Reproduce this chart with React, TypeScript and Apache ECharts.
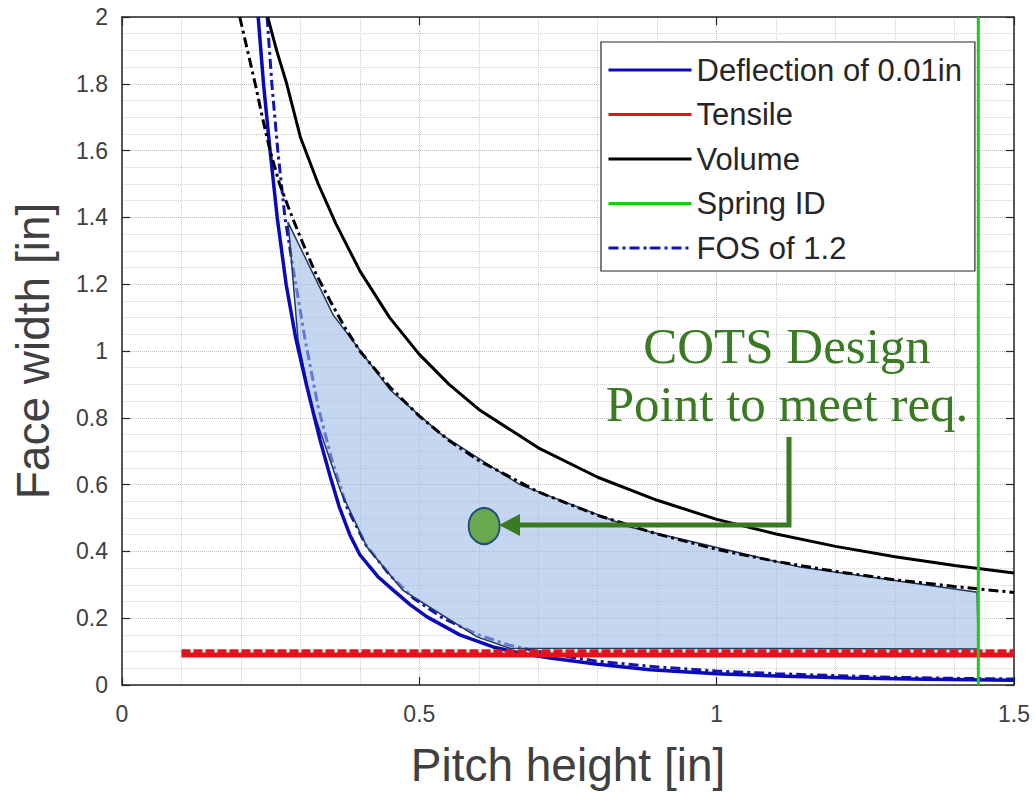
import React, { useEffect, useRef } from "react";
import * as echarts from "echarts";

// ---- data ----
const deflectionPitch = [0.229, 0.238, 0.249, 0.261, 0.276, 0.292, 0.31, 0.333, 0.35, 0.365, 0.383, 0.4, 0.43, 0.456, 0.485, 0.513, 0.568, 0.624, 0.67, 0.72, 0.8, 0.888, 1.0, 1.1, 1.224, 1.35, 1.5];
const deflectionFace = [2.0, 1.8, 1.6, 1.4, 1.2, 1.04, 0.9, 0.734, 0.625, 0.535, 0.45, 0.39, 0.325, 0.284, 0.24, 0.204, 0.15, 0.114, 0.095, 0.081, 0.062, 0.046, 0.034, 0.027, 0.021, 0.017, 0.014];

const fosPitch = [0.244, 0.252, 0.262, 0.274, 0.289, 0.308, 0.33, 0.352, 0.378, 0.41, 0.45, 0.49, 0.54, 0.6, 0.65, 0.72, 0.8, 0.9, 1.0, 1.1, 1.2, 1.3, 1.4, 1.5];
const fosFace = [2.0, 1.8, 1.6, 1.4, 1.234, 1.033, 0.832, 0.68, 0.533, 0.42, 0.33, 0.26, 0.2, 0.15, 0.12, 0.093, 0.071, 0.054, 0.042, 0.034, 0.028, 0.023, 0.02, 0.018];

const volumePitch = [0.245, 0.26, 0.277, 0.3, 0.33, 0.36, 0.4, 0.45, 0.5, 0.55, 0.6, 0.7, 0.8, 0.9, 1.0, 1.1, 1.2, 1.3, 1.4, 1.5];
const volumeFace = [2.0, 1.9, 1.8, 1.64, 1.5, 1.38, 1.24, 1.1, 0.99, 0.9, 0.825, 0.71, 0.622, 0.553, 0.496, 0.452, 0.415, 0.384, 0.358, 0.335];

const volumeFosPitch = [0.198, 0.211, 0.224, 0.236, 0.249, 0.265, 0.282, 0.3, 0.325, 0.35, 0.375, 0.4, 0.45, 0.5, 0.55, 0.6, 0.7, 0.8, 0.9, 1.0, 1.1, 1.2, 1.3, 1.4, 1.5];
const volumeFosFace = [2.0, 1.9, 1.8, 1.7, 1.6, 1.5, 1.42, 1.34, 1.235, 1.15, 1.07, 1.0, 0.893, 0.805, 0.732, 0.672, 0.578, 0.508, 0.452, 0.406, 0.37, 0.34, 0.315, 0.295, 0.277];

const tensilePitch = [0.1, 1.5];
const tensileFace = [0.09, 0.09];
const tensileFosFace = [0.101, 0.101];

const springIdPitch = [1.44, 1.44];
const springIdFace = [0, 2];

const regionPitch = [0.279, 0.355, 0.451, 0.538, 0.669, 0.854, 1.14, 1.438, 1.44, 0.652, 0.597, 0.472, 0.412, 0.367, 0.344, 0.319, 0.296, 0.282];
const regionFace = [1.386, 1.108, 0.883, 0.749, 0.6, 0.473, 0.353, 0.278, 0.108, 0.11, 0.144, 0.284, 0.413, 0.583, 0.704, 0.832, 1.033, 1.332];

const designPoint = [0.609, 0.476];

const xTicks = { min: 0, max: 1.5, interval: 0.5 };
const yTicks = { min: 0, max: 2, interval: 0.2 };

const zip = (xs: number[], ys: number[]) => xs.map((x, i) => [x, ys[i]]);

const AXIS_COLOR = "#262626";
const LABEL_COLOR = "#404040";
const SANS = "'Liberation Sans', Arial, sans-serif";
const SERIF = "'Liberation Serif', 'DejaVu Serif', serif";
const GREEN = "#3a7a22";

export default function App() {
  const ref = useRef<HTMLDivElement>(null);

  useEffect(() => {
    if (!ref.current) return;
    const chart = echarts.init(ref.current, undefined, { renderer: "svg" });

    const gridLine = { show: true, lineStyle: { type: "dotted", color: "#bdbdbd", width: 1 } };
    const minorLine = { show: true, lineStyle: { type: "dotted", color: "#d0d0d0", width: 1 } };
    const boxLine = { show: true, onZero: false, lineStyle: { color: AXIS_COLOR, width: 1.5 } };
    const boxTick = { show: true, inside: true, length: 8, lineStyle: { color: AXIS_COLOR, width: 1.2 } };

    const option: any = {
      animation: false,
      backgroundColor: "#ffffff",
      grid: { left: 122, top: 17, width: 892, height: 668, containLabel: false },
      xAxis: [
        {
          type: "value",
          position: "bottom",
          min: xTicks.min,
          max: xTicks.max,
          interval: xTicks.interval,
          name: "Pitch height [in]",
          nameLocation: "middle",
          nameGap: 57,
          nameTextStyle: { fontSize: 46, color: LABEL_COLOR, fontFamily: SANS },
          axisLine: boxLine,
          axisTick: boxTick,
          axisLabel: { fontSize: 23, color: LABEL_COLOR, fontFamily: SANS, margin: 17 },
          splitLine: gridLine,
          minorTick: { show: false, splitNumber: 5 },
          minorSplitLine: minorLine,
        },
        {
          type: "value",
          position: "top",
          min: xTicks.min,
          max: xTicks.max,
          interval: xTicks.interval,
          axisLine: boxLine,
          axisTick: boxTick,
          axisLabel: { show: false },
          splitLine: { show: false },
        },
      ],
      yAxis: [
        {
          type: "value",
          position: "left",
          min: yTicks.min,
          max: yTicks.max,
          interval: yTicks.interval,
          name: "Face width [in]",
          nameLocation: "middle",
          nameGap: 66,
          nameTextStyle: { fontSize: 46, color: LABEL_COLOR, fontFamily: SANS },
          axisLine: boxLine,
          axisTick: boxTick,
          axisLabel: { fontSize: 23, color: LABEL_COLOR, fontFamily: SANS, margin: 14 },
          splitLine: gridLine,
          minorTick: { show: false, splitNumber: 4 },
          minorSplitLine: minorLine,
        },
        {
          type: "value",
          position: "right",
          min: yTicks.min,
          max: yTicks.max,
          interval: yTicks.interval,
          axisLine: boxLine,
          axisTick: boxTick,
          axisLabel: { show: false },
          splitLine: { show: false },
        },
      ],
      legend: {
        data: ["Deflection of 0.01in", "Tensile", "Volume", "Spring ID", "FOS of 1.2"],
        orient: "vertical",
        left: 601,
        top: 42,
        selectedMode: false,
        backgroundColor: "#ffffff",
        borderColor: AXIS_COLOR,
        borderWidth: 1.2,
        borderRadius: 0,
        padding: [11, 13, 6, 6],
        itemWidth: 83,
        itemHeight: 2,
        itemGap: 10.5,
        lineStyle: { width: 3 },
        textStyle: { fontSize: 31, color: AXIS_COLOR, fontFamily: SANS, lineHeight: 34 },
      },
      series: [
        {
          name: "FOS of 1.2",
          type: "line",
          z: 1,
          data: zip(fosPitch, fosFace),
          symbol: "none",
          lineStyle: { color: "#1414b4", width: 3, type: [10, 4, 3, 4] },
          itemStyle: { color: "#1414b4" },
        },
        {
          name: "Feasible region",
          type: "custom",
          z: 2,
          silent: true,
          data: [designPoint],
          renderItem: (_params: any, api: any) => {
            const pts = regionPitch.map((x, i) => api.coord([x, regionFace[i]]));
            return {
              type: "polygon",
              shape: { points: pts },
              style: { fill: "rgba(158,187,230,0.6)", stroke: "#1f3864", lineWidth: 1.5 },
            };
          },
        },
        {
          name: "Deflection of 0.01in",
          type: "line",
          z: 3,
          data: zip(deflectionPitch, deflectionFace),
          symbol: "none",
          lineStyle: { color: "#0a0ab8", width: 3.5 },
          itemStyle: { color: "#0a0ab8" },
        },
        {
          name: "Volume",
          type: "line",
          z: 3,
          data: zip(volumePitch, volumeFace),
          symbol: "none",
          lineStyle: { color: "#000000", width: 3 },
          itemStyle: { color: "#000000" },
        },
        {
          name: "Volume FOS",
          type: "line",
          z: 3,
          data: zip(volumeFosPitch, volumeFosFace),
          symbol: "none",
          lineStyle: { color: "#000000", width: 3, type: [10, 4, 3, 4] },
          itemStyle: { color: "#000000" },
        },
        {
          name: "Tensile",
          type: "line",
          z: 3,
          data: zip(tensilePitch, tensileFace),
          symbol: "none",
          lineStyle: { color: "#e0141c", width: 5 },
          itemStyle: { color: "#e0141c" },
        },
        {
          name: "Tensile FOS",
          type: "line",
          z: 3,
          data: zip(tensilePitch, tensileFosFace),
          symbol: "none",
          lineStyle: { color: "#e0141c", width: 4, type: [9, 3] },
        },
        {
          name: "Spring ID",
          type: "line",
          z: 3,
          data: zip(springIdPitch, springIdFace),
          symbol: "none",
          lineStyle: { color: "#1ec81e", width: 3 },
          itemStyle: { color: "#1ec81e" },
        },
        {
          name: "COTS point",
          type: "scatter",
          z: 4,
          data: [designPoint],
          symbol: "circle",
          symbolSize: [31, 36],
          itemStyle: { color: "#6aa84f", borderColor: "#1f4e79", borderWidth: 2, opacity: 1 },
        },
      ],
      graphic: [
        {
          type: "text",
          x: 787,
          y: 346,
          z: 10,
          style: {
            text: "COTS Design",
            fontSize: 51,
            fontFamily: SERIF,
            fill: GREEN,
            align: "center",
            verticalAlign: "middle",
          },
        },
        {
          type: "text",
          x: 787,
          y: 404,
          z: 10,
          style: {
            text: "Point to meet req.",
            fontSize: 51,
            fontFamily: SERIF,
            fill: GREEN,
            align: "center",
            verticalAlign: "middle",
          },
        },
        {
          type: "polyline",
          z: 10,
          shape: { points: [[789, 437], [789, 525], [516, 525]] },
          style: { stroke: GREEN, lineWidth: 5, fill: null },
        },
        {
          type: "polygon",
          z: 10,
          shape: { points: [[499, 525], [520, 514], [520, 536]] },
          style: { fill: GREEN },
        },
      ],
    };

    chart.setOption(option);
    return () => chart.dispose();
  }, []);

  return (
    <div
      ref={ref}
      style={{ position: "fixed", left: 0, top: 0, width: 1035, height: 795, background: "#fff" }}
    />
  );
}
